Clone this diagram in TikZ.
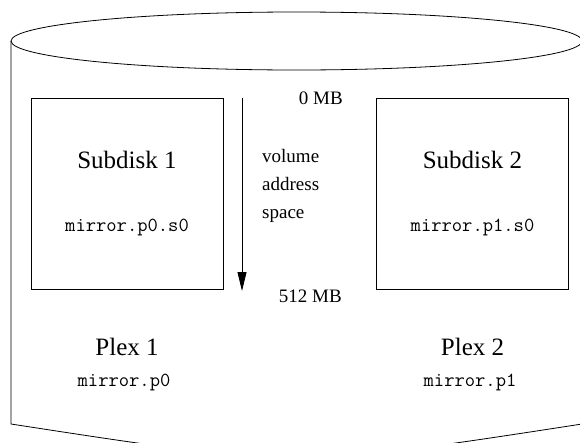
\documentclass[tikz,border=0pt]{standalone}
\usepackage{fontspec}
\setmainfont{Liberation Serif}
\usetikzlibrary{arrows.meta}
\tikzset{
  disk/.style={draw,line width=0.8pt},
  sdbox/.style={draw,line width=0.8pt,minimum width=192pt,minimum height=191pt,inner sep=0pt},
  big/.style={font=\fontsize{25}{30}\selectfont,inner sep=0pt,anchor=base},
  tag/.style={font=\ttfamily\fontsize{20}{24}\selectfont,inner sep=0pt,anchor=base},
  lbl/.style={font=\fontsize{19}{23}\selectfont,inner sep=0pt},
  arr/.style={-{Triangle[length=19pt,width=9pt]},line width=0.8pt},
}
\begin{document}
\begin{tikzpicture}[x=1pt,y=-1pt]
  \clip (0,0) rectangle (580,442);
  % volume cylinder
  \draw[disk] (296.5,41) ellipse [x radius=285.5, y radius=29];
  \draw[disk] (11,41) -- (11,424) .. controls (296.5,468) .. (582,424) -- (582,41);
  % subdisks
  \node[sdbox] (sd1) at (127,193.5) {};
  \node[sdbox] (sd2) at (472.5,193.5) {};
  \node[big] (sd1name) at (127,168) {Subdisk 1};
  \node[tag] (sd1tag) at (127,231) {mirror.p0.s0};
  \node[big] (sd2name) at (472.5,168) {Subdisk 2};
  \node[tag] (sd2tag) at (472.5,231) {mirror.p1.s0};
  % plexes
  \node[big] (px1name) at (127,355) {Plex 1};
  \node[tag] (px1tag) at (124,386) {mirror.p0};
  \node[big] (px2name) at (472.5,355) {Plex 2};
  \node[tag] (px2tag) at (470,386) {mirror.p1};
  % address space
  \coordinate (vtop) at (242,98);
  \coordinate (vbot) at (242,291);
  \draw[arr] (vtop) -- (vbot);
  \node[lbl,anchor=base east] (mb0) at (343,104) {0 MB};
  \node[lbl,anchor=base east] (mb512) at (342,302) {512 MB};
  \node[lbl,anchor=base west] (vol) at (262,162) {volume};
  \node[lbl,anchor=base west] (addr) at (262,190) {address};
  \node[lbl,anchor=base west] (spc) at (262,218) {space};
\end{tikzpicture}
\end{document}
